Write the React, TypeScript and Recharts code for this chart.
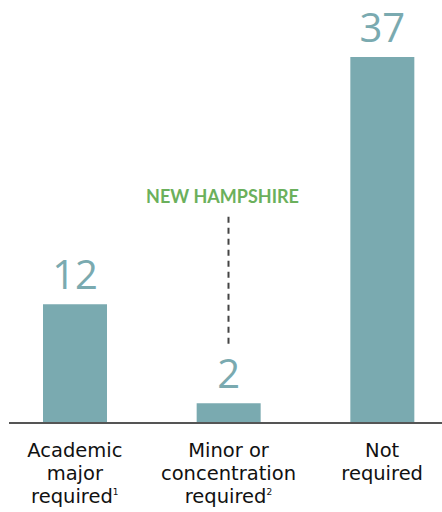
import React from "react"
import { BarChart, Bar, XAxis, YAxis, LabelList, ReferenceLine } from "recharts"

// categories + values
const categories = ["Academic major required", "Minor or concentration required", "Not required"]
const values = [12, 2, 37]
// how each tick label is broken into lines, and the footnote mark on the last line
const tickLines = [
  ["Academic", "major", "required"],
  ["Minor or", "concentration", "required"],
  ["Not", "required"],
]
const footnotes = ["1", "2", ""]
// annotation for the highlighted state
const highlightCategory = "Minor or concentration required"
const highlightLabel = "NEW HAMPSHIRE"
const highlightRange = [8, 21]

const data = categories.map((c, i) => ({ name: c, value: values[i] }))

const BAR = "#7aaab0"
const FONT = "'Open Sans', sans-serif"
const TICK_FONT = "'DejaVu Sans', sans-serif"

function Tick(props: any) {
  const { x, y, index } = props
  const lines = tickLines[index] || []
  return (
    <g>
      {lines.map((line, i) => (
        <text
          key={i}
          x={x}
          y={y + 34 + i * 23}
          textAnchor="middle"
          fontFamily={TICK_FONT}
          fontSize={19.5}
          fill="#111"
        >
          {line}
          {i === lines.length - 1 && footnotes[index] ? (
            <tspan fontSize={9} dy={-8}>
              {footnotes[index]}
            </tspan>
          ) : null}
        </text>
      ))}
    </g>
  )
}

export default function App() {
  return (
    <div style={{ position: "absolute", left: 0, top: 0, width: 442, height: 512, overflow: "hidden", background: "#fff" }}>
      <BarChart width={442} height={512} data={data} margin={{ top: 57, right: 0, bottom: 0, left: 9 }}>
        <XAxis
          dataKey="name"
          height={89}
          interval={0}
          tickLine={false}
          tickSize={0}
          tickMargin={0}
          axisLine={{ stroke: "#555", strokeWidth: 2 }}
          padding={{ left: -11, right: -17 }}
          tick={<Tick />}
        />
        <YAxis hide domain={[0, 37]} />
        <ReferenceLine
          segment={[
            { x: highlightCategory, y: highlightRange[0] },
            { x: highlightCategory, y: highlightRange[1] },
          ]}
          stroke="#444"
          strokeWidth={2}
          strokeDasharray="6 5"
          label={{
            value: highlightLabel,
            position: "top",
            offset: 12,
            dx: -6,
            fill: "#6bb05c",
            fontFamily: "Lato, sans-serif",
            fontWeight: 700,
            fontSize: 18,
          }}
        />
        <Bar dataKey="value" fill={BAR} barSize={64} isAnimationActive={false}>
          <LabelList
            dataKey="value"
            position="top"
            offset={15}
            fill={BAR}
            fontFamily={FONT}
            fontSize={40}
          />
        </Bar>
      </BarChart>
    </div>
  )
}
